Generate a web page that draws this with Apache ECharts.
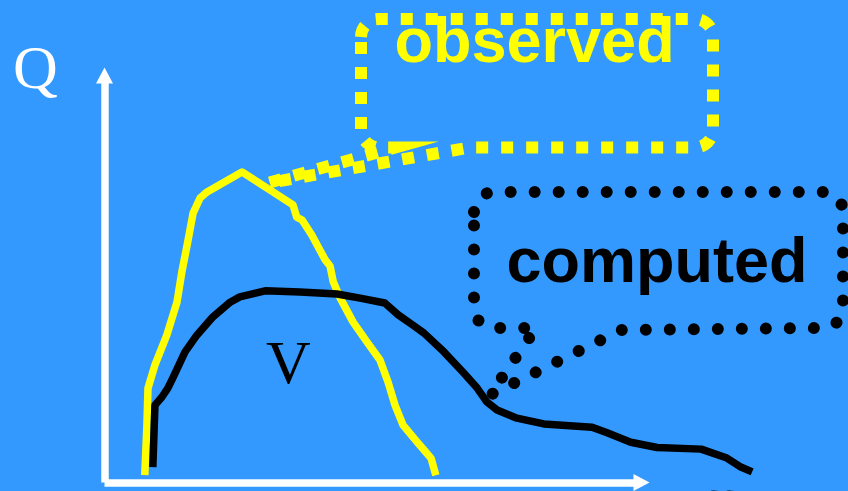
<!DOCTYPE html>
<html>
<head>
<meta charset="utf-8">
<script src="https://cdn.jsdelivr.net/npm/echarts@6/dist/echarts.min.js"></script>
<style>
html,body{margin:0;padding:0;background:#3399ff;}
#chart{width:848px;height:491px;}
</style>
</head>
<body>
<div id="chart"></div>
<script>
// Observed hydrograph (yellow): time, discharge
const observedTime = [7.5, 7.9, 8.1, 9.4, 11.6, 13.5, 14.4, 15.4, 16.5, 17.8, 19.1, 25.6, 35.1, 35.8, 36.8, 38.6, 39.9, 41.1, 42.0, 42.6, 43.9, 46.3, 48.9, 51.3, 52.8, 54.1, 55.6, 58.2, 59.5, 60.8, 61.7];
const observedQ    = [1.8, 14.1, 23.2, 28.9, 36.2, 44.3, 51.7, 58.4, 66.2, 69.9, 71.4, 76.3, 68.2, 65.2, 64.5, 60.8, 57.6, 54.7, 53.2, 49.3, 45.3, 39.4, 34.5, 30.1, 24.7, 19.0, 14.1, 10.0, 8.0, 6.0, 1.8];
// Computed hydrograph (black): time, discharge
const computedTime = [9.0, 9.4, 10.7, 11.8, 12.8, 15.0, 17.2, 20.2, 23.4, 25.2, 29.9, 36.4, 43.3, 47.6, 52.2, 54.7, 57.4, 59.5, 63.2, 66.9, 69.4, 71.2, 73.1, 76.8, 81.8, 90.8, 93.6, 98.0, 102.9, 111.1, 115.9, 118.5, 120.6];
const computedQ    = [3.8, 19.0, 21.0, 23.2, 25.9, 32.1, 36.2, 40.7, 44.3, 45.6, 47.1, 46.8, 46.3, 45.3, 44.1, 41.2, 38.7, 36.7, 32.1, 26.9, 23.2, 19.8, 17.8, 15.8, 14.4, 13.6, 12.2, 9.9, 8.6, 8.2, 6.0, 3.8, 2.6];
// Text labels
const axisYLabel = 'Q';
const volumeLabel = 'V';
const observedLabel = 'observed';
const computedLabel = 'computed';
const bottomLabel = 'ss';

const zip = (a, b) => a.map((v, i) => [v, b[i]]);

// rounded-rectangle callout outline (decoration), tail on bottom edge
function calloutPoints(l, t, r, b, rad, baseLeft, tip, baseRight) {
  const pts = [];
  const arc = (cx, cy, a0, a1) => {
    const n = 8;
    for (let i = 0; i <= n; i++) {
      const a = a0 + (a1 - a0) * i / n;
      pts.push([cx + rad * Math.cos(a), cy + rad * Math.sin(a)]);
    }
  };
  arc(l + rad, t + rad, Math.PI, 1.5 * Math.PI);
  arc(r - rad, t + rad, 1.5 * Math.PI, 2 * Math.PI);
  arc(r - rad, b - rad, 0, 0.5 * Math.PI);
  pts.push(baseRight, tip, baseLeft);
  arc(l + rad, b - rad, 0.5 * Math.PI, Math.PI);
  pts.push([l, t + rad]);
  return pts;
}

// axis frame: x 0..100 over 537px; data grid shares the same scale but runs to 130
const gridLeft = 104.5, gridTop = 75.5, gridBottom = 8.5, axisRight = 206.5;
const pxPerUnit = (848 - gridLeft - axisRight) / 100;
const dataXMax = 130;
const dataRight = 848 - gridLeft - dataXMax * pxPerUnit;

const hiddenAxis = {axisLine: {show: false}, axisTick: {show: false}, axisLabel: {show: false}, splitLine: {show: false}};
const arrowAxis = {
  axisLine: {show: true, symbol: ['none', 'triangle'], symbolSize: [17, 16], lineStyle: {color: '#fff', width: 7.5, cap: 'butt'}},
  axisTick: {show: false}, axisLabel: {show: false}, splitLine: {show: false}
};

const chart = echarts.init(document.getElementById('chart'), null, {renderer: 'canvas'});
chart.setOption({
  backgroundColor: '#3399ff',
  animation: false,
  grid: [
    {left: gridLeft, top: gridTop, right: axisRight, bottom: gridBottom, containLabel: false},
    {left: gridLeft, top: gridTop, right: dataRight, bottom: gridBottom, containLabel: false}
  ],
  xAxis: [
    Object.assign({type: 'value', gridIndex: 0, min: 0, max: 100}, arrowAxis),
    Object.assign({type: 'value', gridIndex: 1, min: 0, max: dataXMax}, hiddenAxis)
  ],
  yAxis: [
    Object.assign({type: 'value', gridIndex: 0, min: 0, max: 100}, arrowAxis),
    Object.assign({type: 'value', gridIndex: 1, min: 0, max: 100}, hiddenAxis)
  ],
  series: [
    {type: 'line', name: 'observed', xAxisIndex: 1, yAxisIndex: 1, data: zip(observedTime, observedQ), showSymbol: false, clip: false,
     lineStyle: {color: '#ffff00', width: 7.5, join: 'round', cap: 'butt'}, z: 3},
    {type: 'line', name: 'computed', xAxisIndex: 1, yAxisIndex: 1, data: zip(computedTime, computedQ), showSymbol: false, clip: false,
     lineStyle: {color: '#000000', width: 7.5, join: 'round', cap: 'butt'}, z: 4}
  ],
  graphic: [
    {type: 'polyline', z: 10,
     shape: {points: calloutPoints(361, 19, 713, 147.5, 18, [395, 147.5], [268, 183], [470, 147.5])},
     style: {fill: null, stroke: '#ffff00', lineWidth: 12, lineDash: [12, 13], lineCap: 'butt', lineJoin: 'miter'}},
    {type: 'polyline', z: 10,
     shape: {points: calloutPoints(474, 192, 843, 328, 20, [536, 328], [490, 395], [621, 330])},
     style: {fill: null, stroke: '#000000', lineWidth: 12, lineDash: [0.01, 24], lineCap: 'round'}},
    {type: 'text', z: 11, x: 394.5, y: 44.5,
     style: {text: observedLabel, font: 'bold 63px "Liberation Sans", Arial, sans-serif', fill: '#ffff00', textAlign: 'left', textVerticalAlign: 'middle'}},
    {type: 'text', z: 11, x: 506.5, y: 265,
     style: {text: computedLabel, font: 'bold 63px "Liberation Sans", Arial, sans-serif', fill: '#000000', textAlign: 'left', textVerticalAlign: 'middle'}},
    {type: 'text', z: 11, x: 13, y: 72,
     style: {text: axisYLabel, font: '62px "Liberation Serif", "Times New Roman", serif', fill: '#ffffff', textAlign: 'left', textVerticalAlign: 'middle'}},
    {type: 'text', z: 11, x: 266, y: 366.5,
     style: {text: volumeLabel, font: '62px "Liberation Serif", "Times New Roman", serif', fill: '#000000', textAlign: 'left', textVerticalAlign: 'middle'}},
    {type: 'text', z: 11, x: 706, y: 499,
     style: {text: bottomLabel, font: '40px "Liberation Serif", "Times New Roman", serif', fill: '#000000', textAlign: 'left', textVerticalAlign: 'middle'}}
  ]
});
</script>
</body>
</html>
